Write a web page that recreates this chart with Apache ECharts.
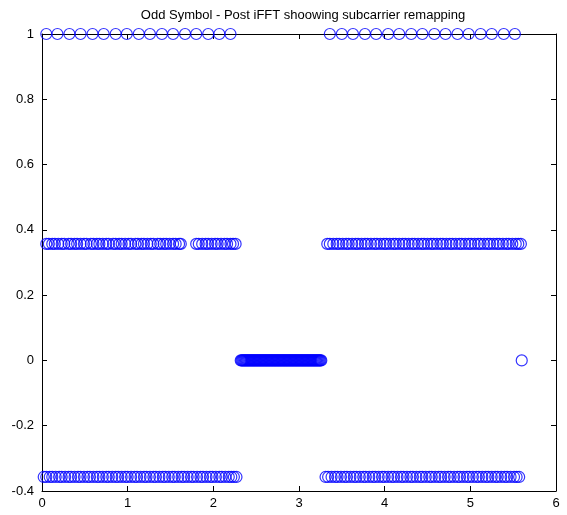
<!DOCTYPE html>
<html>
<head>
<meta charset="utf-8">
<script src="https://cdn.jsdelivr.net/npm/echarts@6/dist/echarts.min.js"></script>
<style>
  html, body { margin: 0; padding: 0; background: #fff; }
  #chart { width: 567px; height: 515px; }
</style>
</head>
<body>
<div id="chart"></div>
<script>
const titleText = 'Odd Symbol - Post iFFT shoowing subcarrier remapping';

// y levels
const levelTop = 1;
const levelMid = 0.357;
const levelLow = -0.357;
const levelZero = 0;

// x positions
const topX = [0.05, 0.18, 0.32, 0.45, 0.59, 0.72, 0.86, 0.99, 1.13, 1.26, 1.40, 1.53, 1.67, 1.80, 1.94, 2.07, 2.20,
    3.36, 3.50, 3.63, 3.77, 3.90, 4.04, 4.17, 4.31, 4.44, 4.58, 4.71, 4.85, 4.98, 5.12, 5.25, 5.39, 5.52];

const midX = [0.05, 0.08, 0.12, 0.15, 0.19, 0.23, 0.26, 0.31, 0.34, 0.38, 0.41, 0.45, 0.49, 0.52, 0.57, 0.60,
    0.64, 0.67, 0.71, 0.75, 0.78, 0.83, 0.86, 0.90, 0.93, 0.97, 1.01, 1.04, 1.09, 1.12, 1.16, 1.19, 1.23,
    1.27, 1.30, 1.35, 1.38, 1.42, 1.45, 1.49, 1.53, 1.56, 1.60, 1.62,
    1.80, 1.83, 1.87, 1.91, 1.94, 1.98, 2.02, 2.05, 2.09, 2.13, 2.16, 2.20, 2.23, 2.26,
    3.33, 3.36, 3.40, 3.44, 3.47, 3.51, 3.55, 3.58, 3.62, 3.66, 3.69, 3.73, 3.77, 3.80, 3.84, 3.88, 3.91,
    3.95, 3.99, 4.02, 4.06, 4.10, 4.13, 4.17, 4.21, 4.24, 4.28, 4.32, 4.35, 4.39, 4.43, 4.46, 4.50, 4.54,
    4.57, 4.61, 4.65, 4.68, 4.72, 4.76, 4.79, 4.83, 4.87, 4.90, 4.94, 4.98, 5.01, 5.05, 5.09, 5.12, 5.16,
    5.20, 5.23, 5.27, 5.31, 5.34, 5.38, 5.42, 5.45, 5.49, 5.53, 5.56, 5.59];

const lowX = [0.02, 0.05, 0.09, 0.12, 0.16, 0.20, 0.23, 0.27, 0.31, 0.34, 0.38, 0.42, 0.45, 0.49, 0.53, 0.56,
    0.60, 0.64, 0.67, 0.71, 0.75, 0.78, 0.82, 0.86, 0.89, 0.93, 0.97, 1.00, 1.04, 1.08, 1.11, 1.15, 1.19,
    1.22, 1.26, 1.30, 1.33, 1.37, 1.41, 1.44, 1.48, 1.52, 1.55, 1.59, 1.63, 1.66, 1.70, 1.74, 1.77, 1.81,
    1.85, 1.88, 1.92, 1.96, 1.99, 2.03, 2.07, 2.10, 2.14, 2.18, 2.21, 2.24, 2.27,
    3.31, 3.34, 3.38, 3.42, 3.45, 3.49, 3.53, 3.56, 3.60, 3.64, 3.67, 3.71, 3.75, 3.78, 3.82, 3.86, 3.89,
    3.93, 3.97, 4.00, 4.04, 4.08, 4.11, 4.15, 4.19, 4.22, 4.26, 4.30, 4.33, 4.37, 4.41, 4.44, 4.48, 4.52,
    4.55, 4.59, 4.63, 4.66, 4.70, 4.74, 4.77, 4.81, 4.85, 4.88, 4.92, 4.96, 4.99, 5.03, 5.07, 5.10, 5.14,
    5.18, 5.21, 5.25, 5.29, 5.32, 5.36, 5.40, 5.43, 5.47, 5.51, 5.54, 5.57];

const zeroX = [2.32, 2.33, 2.34, 2.35, 2.36, 2.37, 2.38, 2.39, 2.40, 2.41, 2.42, 2.43, 2.44, 2.45, 2.46, 2.47,
    2.48, 2.49, 2.50, 2.51, 2.52, 2.53, 2.54, 2.55, 2.56, 2.57, 2.58, 2.59, 2.60, 2.61, 2.62, 2.63, 2.64,
    2.65, 2.66, 2.67, 2.68, 2.69, 2.70, 2.71, 2.72, 2.73, 2.74, 2.75, 2.76, 2.77, 2.78, 2.79, 2.80, 2.81,
    2.82, 2.83, 2.84, 2.85, 2.86, 2.87, 2.88, 2.89, 2.90, 2.91, 2.92, 2.93, 2.94, 2.95, 2.96, 2.97, 2.98,
    2.99, 3.00, 3.01, 3.02, 3.03, 3.04, 3.05, 3.06, 3.07, 3.08, 3.09, 3.10, 3.11, 3.12, 3.13, 3.14, 3.15,
    3.16, 3.17, 3.18, 3.19, 3.20, 3.21, 3.22, 3.23, 3.24, 3.25, 3.26, 5.60];

const xTicks = [0, 1, 2, 3, 4, 5, 6];
const yTicks = [-0.4, -0.2, 0, 0.2, 0.4, 0.6, 0.8, 1];

let points = [];
topX.forEach((x) => points.push([x, levelTop]));
midX.forEach((x) => points.push([x, levelMid]));
lowX.forEach((x) => points.push([x, levelLow]));
zeroX.forEach((x) => points.push([x, levelZero]));

let chart = echarts.init(document.getElementById('chart'));

const axisFont = { color: '#000', fontSize: 13, fontFamily: 'Liberation Sans, Arial, sans-serif' };
const boxLine = { onZero: false, lineStyle: { color: '#000', width: 1 } };
const inTick = { show: true, inside: true, length: 5, lineStyle: { color: '#000' } };

const option = {
    animation: false,
    title: {
        text: titleText,
        left: 298,
        textAlign: 'center',
        top: 4,
        textStyle: { color: '#000', fontSize: 13, fontWeight: 'normal', fontFamily: 'Liberation Sans, Arial, sans-serif' }
    },
    grid: { left: 42, right: 11, top: 34, bottom: 24 },
    xAxis: [{
        type: 'value',
        min: xTicks[0],
        max: xTicks[xTicks.length - 1],
        interval: 1,
        position: 'bottom',
        axisLine: boxLine,
        axisTick: inTick,
        axisLabel: Object.assign({ margin: 6 }, axisFont),
        splitLine: { show: false }
    }, {
        type: 'value',
        min: xTicks[0],
        max: xTicks[xTicks.length - 1],
        interval: 1,
        position: 'top',
        axisLine: boxLine,
        axisTick: inTick,
        axisLabel: { show: false },
        splitLine: { show: false }
    }],
    yAxis: [{
        type: 'value',
        min: yTicks[0],
        max: yTicks[yTicks.length - 1],
        interval: 0.2,
        position: 'left',
        axisLine: Object.assign({ show: true }, boxLine),
        axisTick: inTick,
        axisLabel: Object.assign({ margin: 8, formatter: (v) => String(Math.round(v * 10) / 10) }, axisFont),
        splitLine: { show: false }
    }, {
        type: 'value',
        min: yTicks[0],
        max: yTicks[yTicks.length - 1],
        interval: 0.2,
        position: 'right',
        axisLine: Object.assign({ show: true }, boxLine),
        axisTick: inTick,
        axisLabel: { show: false },
        splitLine: { show: false }
    }],
    series: [{
        type: 'scatter',
        data: points,
        clip: false,
        symbol: 'circle',
        symbolSize: 11,
        itemStyle: { color: 'rgba(0,0,0,0)', borderColor: '#0000ff', borderWidth: 1.2 }
    }]
};

option && chart.setOption(option);
window.addEventListener('resize', chart.resize);
</script>
</body>
</html>
